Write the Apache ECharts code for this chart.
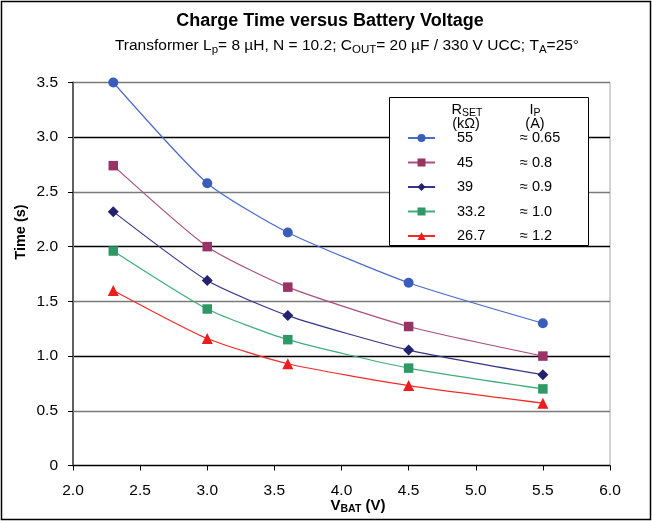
<!DOCTYPE html>
<html>
<head>
<meta charset="utf-8">
<script src="https://cdn.jsdelivr.net/npm/echarts@6/dist/echarts.min.js"></script>
<style>html,body{margin:0;padding:0;background:#fff;}#c{width:652px;height:521px;}</style>
</head>
<body>
<div id="c"></div>
<script>
// Data
const vbat = [2.3, 3.0, 3.6, 4.5, 5.5];
const rset = ['55', '45', '39', '33.2', '26.7'];
const ipeak = ['≈ 0.65', '≈ 0.8', '≈ 0.9', '≈ 1.0', '≈ 1.2'];
const t55 = [3.50, 2.58, 2.13, 1.67, 1.30];
const t45 = [2.74, 2.00, 1.63, 1.27, 1.00];
const t39 = [2.32, 1.69, 1.37, 1.055, 0.83];
const t33 = [1.96, 1.43, 1.15, 0.89, 0.70];
const t26 = [1.60, 1.16, 0.93, 0.73, 0.57];
const xTicks = [2.0, 6.0, 0.5];
const yTicks = [0, 3.5, 0.5];

const seriesValues = [t55, t45, t39, t33, t26];
const symbols = ['circle', 'rect', 'diamond', 'rect', 'triangle'];
const symSizes = [10, 9.5, 11, 9.5, 11];
const lineColors = ['#4a6cc8', '#a8507c', '#35358a', '#3fae78', '#f22a2a'];
const symColors = ['#3a5cba', '#993366', '#22226e', '#2e9966', '#ee1c1c'];

const FONT = 'Liberation Sans, Arial, sans-serif';
const ipMap = {};
rset.forEach((r, i) => ipMap[r] = ipeak[i]);

const series = seriesValues.map((vals, i) => ({
  name: rset[i],
  type: 'line',
  data: vbat.map((x, j) => [x, vals[j]]),
  smooth: 0.2,
  symbol: symbols[i],
  symbolSize: symSizes[i],
  showAllSymbol: true,
  lineStyle: { color: lineColors[i], width: 1.2 },
  itemStyle: { color: symColors[i], borderWidth: 0 },
  z: 3
}));

const subRich = (size, bold) => ({ s: { fontSize: size, fontWeight: bold ? 'bold' : 'normal', fontFamily: FONT, fill: '#000', verticalAlign: 'bottom', padding: [7, 0, 0, 0] } });

const chart = echarts.init(document.getElementById('c'), null, { renderer: 'canvas' });
chart.setOption({
  animation: false,
  backgroundColor: '#fff',
  textStyle: { fontFamily: FONT },
  grid: {
    left: 73, right: 42, top: 82.5, bottom: 55.5,
    show: true, borderColor: '#a8a8a8', borderWidth: 1, backgroundColor: 'transparent'
  },
  xAxis: {
    type: 'value',
    min: xTicks[0], max: xTicks[1], interval: xTicks[2],
    axisLine: { show: true, lineStyle: { color: '#000', width: 1 } },
    axisTick: { show: true, inside: false, length: 5, lineStyle: { color: '#000' } },
    axisLabel: { margin: 17, fontSize: 15.5, color: '#000', fontFamily: FONT, formatter: v => v.toFixed(1) },
    splitLine: { show: false }
  },
  yAxis: {
    type: 'value',
    min: yTicks[0], max: yTicks[1], interval: yTicks[2],
    axisLine: { show: true, onZero: false, lineStyle: { color: '#606060', width: 2 } },
    axisTick: { show: true, inside: false, length: 5, lineStyle: { color: '#000' } },
    axisLabel: { margin: 15, fontSize: 15.5, color: '#000', fontFamily: FONT, formatter: v => v === 0 ? '0' : v.toFixed(1) },
    splitLine: { show: true, lineStyle: { color: ['#000', '#7a7a7a'], width: 1.3 } }
  },
  legend: {
    orient: 'vertical',
    left: 407, top: 130.5,
    padding: 0,
    itemWidth: 27, itemHeight: 10,
    itemGap: 9.5,
    z: 10,
    data: rset,
    textStyle: {
      fontFamily: FONT, fontSize: 14.5, color: '#000', lineHeight: 15,
      rich: {
        a: { fontFamily: FONT, fontSize: 14.5, color: '#000', width: 63, padding: [0, 0, 0, 17] },
        b: { fontFamily: FONT, fontSize: 14.5, color: '#000' }
      }
    },
    formatter: name => '{a|' + name + '}{b|' + ipMap[name] + '}'
  },
  graphic: [
    { type: 'text', z: 10, x: 330, y: 21, style: { text: 'Charge Time versus Battery Voltage', fill: '#000', font: 'bold 18px ' + FONT, align: 'center', verticalAlign: 'middle' } },
    { type: 'text', z: 10, x: 347, y: 46, style: { text: 'Transformer L{s|p}= 8 µH, N = 10.2; C{s|OUT}= 20 µF / 330 V UCC; T{s|A}=25°', fill: '#000', font: '15.5px ' + FONT, align: 'center', verticalAlign: 'middle', rich: subRich(11.5, false) } },
    { type: 'rect', z: 5, shape: { x: 389.5, y: 97.5, width: 199, height: 148 }, style: { fill: '#fff', stroke: '#000', lineWidth: 1 } },
    { type: 'text', z: 10, x: 467, y: 110, style: { text: 'R{s|SET}', fill: '#000', font: '14.5px ' + FONT, align: 'center', verticalAlign: 'middle', rich: subRich(10.5, false) } },
    { type: 'text', z: 10, x: 466, y: 124, style: { text: '(kΩ)', fill: '#000', font: '14.5px ' + FONT, align: 'center', verticalAlign: 'middle' } },
    { type: 'text', z: 10, x: 535, y: 110, style: { text: 'I{s|P}', fill: '#000', font: '14.5px ' + FONT, align: 'center', verticalAlign: 'middle', rich: subRich(10.5, false) } },
    { type: 'text', z: 10, x: 535, y: 124, style: { text: '(A)', fill: '#000', font: '14.5px ' + FONT, align: 'center', verticalAlign: 'middle' } },
    { type: 'text', z: 10, x: 21, y: 232, rotation: Math.PI / 2, style: { text: 'Time (s)', fill: '#000', font: 'bold 14.5px ' + FONT, align: 'center', verticalAlign: 'middle' } },
    { type: 'text', z: 10, x: 358, y: 506, style: { text: 'V{s|BAT} (V)', fill: '#000', font: 'bold 15px ' + FONT, align: 'center', verticalAlign: 'middle', rich: subRich(10.5, true) } },
    { type: 'rect', z: 0, silent: true, shape: { x: 1.5, y: 1.5, width: 649, height: 518 }, style: { fill: 'none', stroke: '#000', lineWidth: 1.5 } }
  ],
  series: series
});
</script>
</body>
</html>
